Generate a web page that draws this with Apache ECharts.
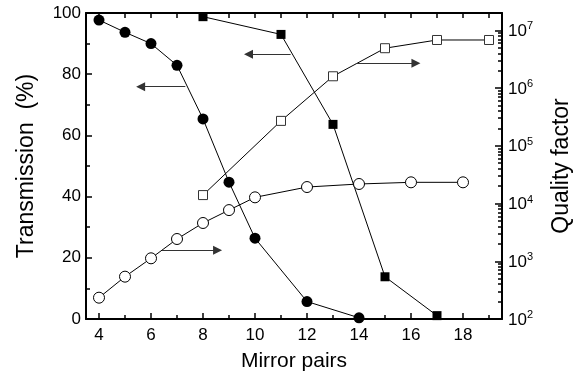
<!DOCTYPE html>
<html><head><meta charset="utf-8">
<script src="https://cdn.jsdelivr.net/npm/echarts@6/dist/echarts.min.js"></script>
<style>html,body{margin:0;padding:0;background:#fff}#c{width:581px;height:382px}</style>
</head><body><div id="c"></div>
<script>
// Transmission (%) – filled circles
const tCircleX = [4, 5, 6, 7, 8, 9, 10, 12, 14];
const tCircleY = [97.7, 93.7, 90.0, 82.9, 65.4, 44.7, 26.4, 5.7, 0.4];
// Transmission (%) – filled squares
const tSquareX = [8, 11, 13, 15, 17];
const tSquareY = [98.8, 93.0, 63.6, 13.8, 1.1];
// Quality factor – open squares
const qSquareX = [8, 11, 13, 15, 17, 19];
const qSquareY = [1.4e4, 2.7e5, 1.6e6, 4.9e6, 6.8e6, 6.8e6];
// Quality factor – open circles
const qCircleX = [4, 5, 6, 7, 8, 9, 10, 12, 14, 16, 18];
const qCircleY = [234, 541, 1125, 2430, 4600, 7700, 12800, 19300, 21800, 23300, 23300];
// Arrows [xStart, xEnd, yLeftAxis]
const arrows = [[7.32, 5.60, 75.9], [11.37, 9.75, 86.5], [13.88, 16.19, 83.6], [6.42, 8.56, 22.5]];
// ticks
const xMajorTicks = [4, 6, 8, 10, 12, 14, 16, 18];
const xMinorTicks = [5, 7, 9, 11, 13, 15, 17, 19];
const xTopTicks = [4, 5, 6, 7, 8, 9, 10, 11, 12, 13, 14, 15, 16, 17, 18, 19];
const qMinorTicks = [];
[100, 1000, 10000, 100000, 1000000, 10000000].forEach(d => { for (let k = 2; k <= 9; k++) { if (d * k < 2e7) qMinorTicks.push(d * k); } });

const zip = (a, b) => a.map((v, i) => [v, b[i]]);
const FONT = "'Liberation Sans', Arial, sans-serif";
const axLine = { show: true, lineStyle: { color: '#000', width: 2 } };

const chart = echarts.init(document.getElementById('c'), null, { renderer: 'canvas' });
chart.setOption({
  animation: false,
  backgroundColor: '#fff',
  textStyle: { fontFamily: FONT },
  grid: { left: 86, right: 79, top: 13, bottom: 63 },
  xAxis: [
    { type: 'value', position: 'bottom', min: 3.5, max: 19.5,
      axisLine: axLine,
      axisTick: { show: true, inside: true, length: 6, customValues: xMajorTicks, lineStyle: { color: '#000', width: 1.5 } },
      axisLabel: { show: true, customValues: xMajorTicks, fontSize: 17, color: '#000', margin: 8, fontFamily: FONT },
      splitLine: { show: false },
      name: 'Mirror pairs', nameLocation: 'middle', nameGap: 32,
      nameTextStyle: { fontSize: 21, color: '#000', fontFamily: FONT } },
    { type: 'value', position: 'bottom', min: 3.5, max: 19.5,
      axisLine: { show: false },
      axisTick: { show: true, inside: true, length: 4, customValues: xMinorTicks, lineStyle: { color: '#000', width: 1.5 } },
      axisLabel: { show: false }, splitLine: { show: false } },
    { type: 'value', position: 'top', min: 3.5, max: 19.5,
      axisLine: axLine,
      axisTick: { show: true, inside: true, length: 5, customValues: xTopTicks, lineStyle: { color: '#000', width: 1.5 } },
      axisLabel: { show: false }, splitLine: { show: false } }
  ],
  yAxis: [
    { type: 'value', position: 'left', min: 0, max: 100, interval: 20,
      axisLine: axLine,
      axisTick: { show: true, inside: true, length: 6, lineStyle: { color: '#000', width: 1.5 } },
      minorTick: { show: true, splitNumber: 2, length: 4, lineStyle: { color: '#000', width: 1.5 } },
      axisLabel: { fontSize: 17, color: '#000', margin: 5, fontFamily: FONT },
      splitLine: { show: false },
      name: 'Transmission  (%)', nameLocation: 'middle', nameGap: 48, nameRotate: 90,
      nameTextStyle: { fontSize: 23, color: '#000', fontFamily: FONT } },
    { type: 'log', logBase: 10, position: 'right', min: 100, max: 19952623,
      axisLine: axLine,
      axisTick: { show: true, inside: true, length: 7, lineStyle: { color: '#000', width: 1.5 } },
      axisLabel: { color: '#000', margin: 6, fontFamily: FONT,
        formatter: function (v) {
          const l = Math.log10(v), e = Math.round(l);
          if (Math.abs(l - e) > 1e-6) return '';
          return '{b|10}{s|' + e + '}';
        },
        rich: {
          b: { fontSize: 17, fontFamily: FONT, color: '#000', lineHeight: 19, verticalAlign: 'bottom' },
          s: { fontSize: 11, fontFamily: FONT, color: '#000', lineHeight: 19, verticalAlign: 'top' }
        } },
      splitLine: { show: false },
      name: 'Quality factor', nameLocation: 'middle', nameGap: 48, nameRotate: 90,
      nameTextStyle: { fontSize: 23, color: '#000', fontFamily: FONT } },
    { type: 'log', logBase: 10, position: 'right', min: 100, max: 19952623,
      axisLine: { show: false },
      axisTick: { show: true, inside: true, length: 4, customValues: qMinorTicks, lineStyle: { color: '#000', width: 1.5 } },
      axisLabel: { show: false }, splitLine: { show: false } }
  ],
  series: [
    { type: 'line', name: 'Tc', xAxisIndex: 0, yAxisIndex: 0, data: zip(tCircleX, tCircleY),
      symbol: 'circle', symbolSize: 11, itemStyle: { color: '#000' }, lineStyle: { color: '#000', width: 1 },
      markLine: { silent: true, symbol: ['none', 'triangle'], symbolSize: 9,
        label: { show: false }, lineStyle: { color: '#333', width: 1.2, type: 'solid' },
        emphasis: { disabled: true },
        data: arrows.map(a => [{ coord: [a[0], a[2]] }, { coord: [a[1], a[2]] }]) } },
    { type: 'line', name: 'Ts', xAxisIndex: 0, yAxisIndex: 0, data: zip(tSquareX, tSquareY),
      symbol: 'rect', symbolSize: 9, itemStyle: { color: '#000' }, lineStyle: { color: '#000', width: 1 } },
    { type: 'line', name: 'Qs', xAxisIndex: 0, yAxisIndex: 1, data: zip(qSquareX, qSquareY),
      symbol: 'rect', symbolSize: 9, itemStyle: { color: '#fff', borderColor: '#333', borderWidth: 1 }, lineStyle: { color: '#000', width: 1 } },
    { type: 'line', name: 'Qc', xAxisIndex: 0, yAxisIndex: 1, data: zip(qCircleX, qCircleY),
      symbol: 'circle', symbolSize: 11, itemStyle: { color: '#fff', borderColor: '#000', borderWidth: 1 }, lineStyle: { color: '#000', width: 1 } }
  ]
});
</script></body></html>
